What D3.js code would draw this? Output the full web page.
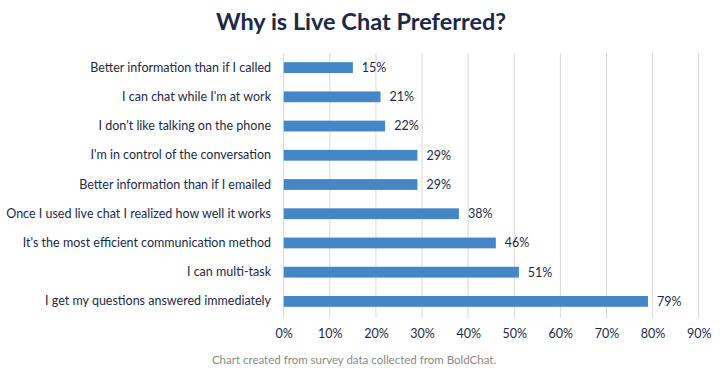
<!DOCTYPE html>
<html>
<head>
<meta charset="utf-8">
<script src="https://cdn.jsdelivr.net/npm/d3@7"></script>
<style>
  body { margin: 0; background: #fff; }
  svg { display: block; font-family: Lato, "Open Sans", sans-serif; }
</style>
</head>
<body>
<div id="chart"></div>
<script>
// values
var reasons = [
  "Better information than if I called",
  "I can chat while I'm at work",
  "I don't like talking on the phone",
  "I'm in control of the conversation",
  "Better information than if I emailed",
  "Once I used live chat I realized how well it works",
  "It's the most efficient communication method",
  "I can multi-task",
  "I get my questions answered immediately"
];
var percents = [15, 21, 22, 29, 29, 38, 46, 51, 79];
var tickValues = [0, 10, 20, 30, 40, 50, 60, 70, 80, 90];

var width = 723, height = 373;
var navy = "#1b2a47";

var svg = d3.select("#chart").append("svg")
  .attr("width", width)
  .attr("height", height);

var x = d3.scaleLinear().domain([0, 90]).range([283.7, 698.7]);
var y = d3.scaleBand().domain(reasons).range([53, 316]).paddingInner(0.63).paddingOuter(0.315);

// title
svg.append("text")
  .attr("x", 361).attr("y", 30)
  .attr("text-anchor", "middle")
  .attr("font-size", 23.5).attr("font-weight", "bold")
  .attr("fill", navy)
  .text("Why is Live Chat Preferred?");

// vertical gridlines
svg.selectAll(".grid").data(tickValues).enter().append("line")
  .attr("x1", function(d) { return x(d); })
  .attr("x2", function(d) { return x(d); })
  .attr("y1", 53).attr("y2", 318)
  .attr("stroke", "#d9d9d9").attr("stroke-width", 1);

// x axis labels
var xAxis = d3.axisBottom(x).tickValues(tickValues)
  .tickFormat(function(d) { return d + "%"; })
  .tickSize(0).tickPadding(0);
var gx = svg.append("g").attr("transform", "translate(0,329)").call(xAxis);
gx.select(".domain").remove();
gx.selectAll("text").attr("font-size", 12.5).attr("fill", navy).attr("font-family", "Lato, sans-serif");

// y axis labels
var yAxis = d3.axisLeft(y).tickSize(0).tickPadding(0);
var gy = svg.append("g").attr("transform", "translate(271,0)").call(yAxis);
gy.select(".domain").remove();
gy.selectAll("text").attr("font-size", 12.5).attr("fill", navy).attr("font-family", "Lato, sans-serif");

// bars
svg.selectAll(".bar").data(percents).enter().append("rect")
  .attr("x", x(0))
  .attr("y", function(d, i) { return y(reasons[i]); })
  .attr("width", function(d) { return x(d) - x(0); })
  .attr("height", y.bandwidth())
  .attr("fill", "#4587c6");

// value labels
svg.selectAll(".val").data(percents).enter().append("text")
  .attr("x", function(d) { return x(d) + 9; })
  .attr("y", function(d, i) { return y(reasons[i]) + y.bandwidth() / 2; })
  .attr("dy", "0.35em")
  .attr("font-size", 12.5)
  .attr("fill", navy)
  .text(function(d) { return d + "%"; });

// footer
svg.append("text")
  .attr("x", 354).attr("y", 364)
  .attr("text-anchor", "middle")
  .attr("font-size", 11.5)
  .attr("fill", "#8a8a8a")
  .text("Chart created from survey data collected from BoldChat.");
</script>
</body>
</html>
